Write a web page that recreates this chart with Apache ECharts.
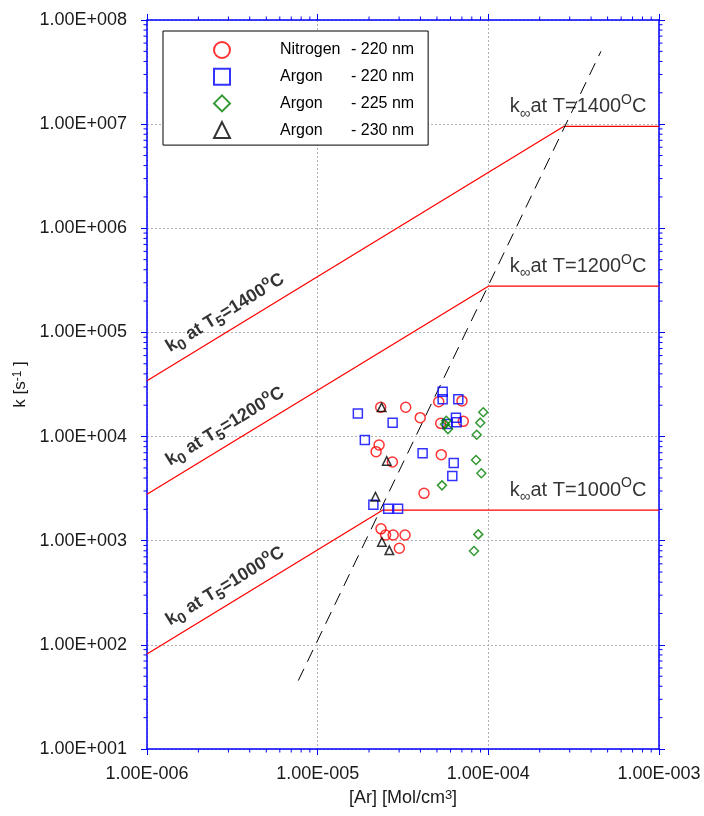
<!DOCTYPE html>
<html>
<head>
<meta charset="utf-8">
<script src="https://cdn.jsdelivr.net/npm/echarts@6/dist/echarts.min.js"></script>
<style>
  html, body { margin: 0; padding: 0; background: #ffffff; }
  #chart { width: 704px; height: 816px; }
</style>
</head>
<body>
<div id="chart"></div>
<script>
// Unimolecular rate constant k versus bath-gas concentration [Ar]

// Measured points: Nitrogen, 220 nm
const nitrogen220X = [2.34e-5, 3.28e-5, 3.99e-5, 5.12e-5, 7.01e-5, 5.26e-5, 7.13e-5, 2.29e-5, 2.20e-5,
                      2.74e-5, 5.30e-5, 4.20e-5, 2.35e-5, 2.50e-5, 2.77e-5, 3.25e-5, 3.01e-5];
const nitrogen220Y = [1.91e4, 1.91e4, 1.52e4, 2.16e4, 2.20e4, 1.34e4, 1.40e4, 8.30e3, 7.16e3,
                      5.70e3, 6.70e3, 2.85e3, 1.30e3, 1.135e3, 1.135e3, 1.135e3, 8.46e2];

// Argon, 220 nm
const argon220X = [5.40e-5, 5.40e-5, 6.67e-5, 1.72e-5, 2.75e-5, 6.46e-5, 6.52e-5, 5.75e-5,
                   1.89e-5, 4.12e-5, 6.27e-5, 6.15e-5, 2.12e-5, 2.59e-5, 2.96e-5];
const argon220Y = [2.70e4, 2.28e4, 2.28e4, 1.67e4, 1.36e4, 1.52e4, 1.37e4, 1.32e4,
                   9.27e3, 6.91e3, 5.58e3, 4.18e3, 2.22e3, 2.03e3, 2.03e3];

// Argon, 225 nm
const argon225X = [9.34e-5, 8.97e-5, 8.55e-5, 5.67e-5, 5.57e-5, 5.80e-5, 8.47e-5, 9.10e-5, 5.35e-5, 8.73e-5, 8.24e-5];
const argon225Y = [1.71e4, 1.36e4, 1.04e4, 1.42e4, 1.31e4, 1.18e4, 5.96e3, 4.44e3, 3.40e3, 1.15e3, 7.97e2];

// Argon, 230 nm
const argon230X = [2.37e-5, 2.54e-5, 2.18e-5, 2.38e-5, 2.63e-5];
const argon230Y = [1.91e4, 5.83e3, 2.65e3, 9.72e2, 8.09e2];

// Fall-off limits: low-pressure line k0 (from [Ar]=1e-6) up to the corner, then the k-infinity plateau
const limitTemps = ['1000', '1200', '1400'];
const limitX = [
  [1e-6, 2.41e-5, 1e-3],
  [1e-6, 1.0e-4, 1e-3],
  [1e-6, 2.76e-4, 1e-3]
];
const limitY = [
  [81.7, 1970, 1970],
  [2790, 278000, 278000],
  [34400, 9500000, 9500000]
];

// Dashed guide line through the corners
const guideX = [7.7e-6, 4.57e-4];
const guideY = [45.4, 5.01e7];

// Tick labels (one per decade)
const xTickLabels = ['1.00E-006', '1.00E-005', '1.00E-004', '1.00E-003'];
const yTickLabels = ['1.00E+001', '1.00E+002', '1.00E+003', '1.00E+004', '1.00E+005', '1.00E+006', '1.00E+007', '1.00E+008'];

const legendNames = ['Nitrogen - 220 nm', 'Argon - 220 nm', 'Argon - 225 nm', 'Argon - 230 nm'];

const FONT = '"Liberation Sans", Arial, Helvetica, sans-serif';
const AXIS_BLUE = '#0000ff';
const X_RANGE = [1e-6, 1e-3];
const Y_RANGE = [10, 1e8];
const zip = (xs, ys) => xs.map((x, i) => [x, ys[i]]);
const decade = v => Math.round(Math.log10(v));

// Logarithmic minor tick values 2..9 within each decade of a range
function minorTickValues(range) {
  const out = [];
  for (let e = decade(range[0]); e < decade(range[1]); e++) {
    for (let m = 2; m <= 9; m++) out.push(m * Math.pow(10, e));
  }
  return out;
}

function axisBase(range) {
  return {
    type: 'log',
    logBase: 10,
    min: range[0],
    max: range[1],
    axisLine: { show: true, onZero: false, lineStyle: { color: AXIS_BLUE, width: 1.5 } },
    axisTick: { show: true, inside: false, length: 6, lineStyle: { color: AXIS_BLUE, width: 1 } },
    minorTick: { show: false },
    splitLine: { show: false },
    minorSplitLine: { show: false },
    axisLabel: { show: false }
  };
}

const gridLine = { show: true, lineStyle: { color: '#b0b0b0', width: 1, type: [2, 2] } };

const xMain = Object.assign(axisBase(X_RANGE), {
  position: 'bottom',
  splitLine: gridLine,
  axisLabel: {
    show: true, margin: 16, fontSize: 18, color: '#1a1a1a', fontFamily: FONT,
    formatter: v => xTickLabels[decade(v) + 6]
  },
  name: '[Ar] [Mol/cm{sup|3}]',
  nameLocation: 'middle',
  nameGap: 40,
  nameTextStyle: {
    fontSize: 18, color: '#1a1a1a', fontFamily: FONT,
    rich: { sup: { fontSize: 13, verticalAlign: 'top', lineHeight: 12, fontFamily: FONT, color: '#1a1a1a' } }
  }
});
const xTop = Object.assign(axisBase(X_RANGE), { position: 'top' });

const yMain = Object.assign(axisBase(Y_RANGE), {
  position: 'left',
  splitLine: gridLine,
  axisLabel: {
    show: true, margin: 20, fontSize: 18, color: '#1a1a1a', fontFamily: FONT,
    formatter: v => yTickLabels[decade(v) - 1]
  },
  name: 'k [s{sup|-1} ]',
  nameLocation: 'middle',
  nameGap: 118,
  nameTextStyle: {
    fontSize: 17, color: '#1a1a1a', fontFamily: FONT,
    rich: { sup: { fontSize: 12, verticalAlign: 'top', lineHeight: 12, fontFamily: FONT, color: '#1a1a1a' } }
  }
});
const yRight = Object.assign(axisBase(Y_RANGE), { position: 'right' });

function pointSeries(name, xs, ys, symbol, size, color) {
  return {
    name: name,
    type: 'scatter',
    xAxisIndex: 0, yAxisIndex: 0,
    symbol: symbol,
    symbolSize: size,
    itemStyle: { color: 'rgba(255,255,255,0)', borderColor: color, borderWidth: 1.5 },
    emphasis: { disabled: true },
    z: 5,
    data: zip(xs, ys)
  };
}

const series = [
  pointSeries(legendNames[0], nitrogen220X, nitrogen220Y, 'circle', 10, '#ff0000'),
  pointSeries(legendNames[1], argon220X, argon220Y, 'rect', 9, '#0000ff'),
  pointSeries(legendNames[2], argon225X, argon225Y, 'diamond', 9, '#008000'),
  pointSeries(legendNames[3], argon230X, argon230Y, 'triangle', 8.5, '#000000')
];

// Fall-off limit polylines
limitTemps.forEach((t, i) => {
  series.push({
    name: 'limit ' + t,
    type: 'line',
    xAxisIndex: 0, yAxisIndex: 0,
    showSymbol: false,
    symbol: 'none',
    lineStyle: { color: '#ff0000', width: 1.3 },
    emphasis: { disabled: true },
    silent: true,
    z: 3,
    data: zip(limitX[i], limitY[i])
  });
});

// Dashed guide
series.push({
  name: 'guide',
  type: 'line',
  xAxisIndex: 0, yAxisIndex: 0,
  symbol: 'none',
  lineStyle: { color: '#000000', width: 1, type: [13, 8] },
  emphasis: { disabled: true },
  silent: true,
  z: 3,
  data: zip(guideX, guideY)
});

// Invisible anchor carrying a text caption
function captionSeries(name, point, label) {
  return {
    name: name,
    type: 'scatter',
    xAxisIndex: 0, yAxisIndex: 0,
    symbol: 'circle',
    symbolSize: 1,
    silent: true,
    z: 6,
    itemStyle: { color: 'rgba(0,0,0,0)' },
    emphasis: { disabled: true },
    label: Object.assign({ show: true, color: '#000' }, label),
    data: [point]
  };
}

// Sloped k0 captions, set just above each low-pressure line
const k0CaptionX = 2.87e-6;
const captionRich = {
  b: { fontSize: 18, fontWeight: 'bold', color: '#000', fontFamily: FONT, lineHeight: 26 },
  bs: { fontSize: 15, fontWeight: 'bold', color: '#000', fontFamily: FONT, lineHeight: 15, verticalAlign: 'bottom' },
  bp: { fontSize: 13, fontWeight: 'bold', color: '#000', fontFamily: FONT, lineHeight: 13, verticalAlign: 'top' }
};
limitTemps.forEach((t, i) => {
  const x0 = limitX[i][0], y0 = limitY[i][0], x1 = limitX[i][1], y1 = limitY[i][1];
  const slope = Math.log10(y1 / y0) / Math.log10(x1 / x0);
  const yLine = y0 * Math.pow(k0CaptionX / x0, slope);
  series.push(captionSeries('k0 caption ' + t, [k0CaptionX, yLine * 1.56], {
    position: 'inside',
    rotate: 31.4,
    align: 'center',
    verticalAlign: 'middle',
    formatter: '{b|k}{bs|0}{b| at T}{bs|5}{b|=' + t + '}{bp|o}{b|C}',
    rich: captionRich
  }));
});

// k-infinity captions, right-aligned above each plateau
const kInfCaptionX = 8.5e-4;
const infRich = {
  m: { fontSize: 20, color: '#000', fontFamily: FONT, lineHeight: 28 },
  s: { fontSize: 15, color: '#000', fontFamily: FONT, lineHeight: 15, verticalAlign: 'bottom' },
  p: { fontSize: 14, color: '#000', fontFamily: FONT, lineHeight: 14, verticalAlign: 'top' }
};
limitTemps.forEach((t, i) => {
  series.push(captionSeries('kinf caption ' + t, [kInfCaptionX, limitY[i][2]], {
    position: [0, 0],
    align: 'right',
    verticalAlign: 'bottom',
    offset: [0, -5],
    formatter: '{m|k}{s|\u221e}{m|at T=' + t + '}{p|O}{m|C}',
    rich: infRich
  }));
});

// Minor ticks on all four frame sides (logarithmic 2..9 positions)
const minorLen = 3.5;
series.push({
  name: 'x minor ticks',
  type: 'custom',
  xAxisIndex: 0, yAxisIndex: 0,
  silent: true,
  clip: false,
  z: 4,
  renderItem: (params, api) => {
    const v = api.value(0);
    const b = api.coord([v, Y_RANGE[0]]);
    const t = api.coord([v, Y_RANGE[1]]);
    const style = { stroke: AXIS_BLUE, lineWidth: 1 };
    return {
      type: 'group',
      children: [
        { type: 'line', shape: { x1: b[0], y1: b[1], x2: b[0], y2: b[1] + minorLen }, style: style },
        { type: 'line', shape: { x1: t[0], y1: t[1], x2: t[0], y2: t[1] - minorLen }, style: style }
      ]
    };
  },
  data: minorTickValues(X_RANGE).map(v => [v, Y_RANGE[0]])
});
series.push({
  name: 'y minor ticks',
  type: 'custom',
  xAxisIndex: 0, yAxisIndex: 0,
  silent: true,
  clip: false,
  z: 4,
  renderItem: (params, api) => {
    const v = api.value(1);
    const l = api.coord([X_RANGE[0], v]);
    const r = api.coord([X_RANGE[1], v]);
    const style = { stroke: AXIS_BLUE, lineWidth: 1 };
    return {
      type: 'group',
      children: [
        { type: 'line', shape: { x1: l[0], y1: l[1], x2: l[0] - minorLen, y2: l[1] }, style: style },
        { type: 'line', shape: { x1: r[0], y1: r[1], x2: r[0] + minorLen, y2: r[1] }, style: style }
      ]
    };
  },
  data: minorTickValues(Y_RANGE).map(v => [X_RANGE[0], v])
});

const chart = echarts.init(document.getElementById('chart'), null, { renderer: 'canvas' });
chart.setOption({
  animation: false,
  backgroundColor: '#ffffff',
  textStyle: { fontFamily: FONT },
  grid: { left: 147, right: 45, top: 20, bottom: 67, containLabel: false },
  xAxis: [xMain, xTop],
  yAxis: [yMain, yRight],
  legend: {
    orient: 'vertical',
    left: 163,
    top: 31,
    padding: [10, 14, 6, 50],
    itemWidth: 16,
    itemHeight: 16,
    itemGap: 8.7,
    backgroundColor: '#ffffff',
    borderColor: '#000000',
    borderWidth: 1,
    selectedMode: false,
    data: legendNames.map(n => ({ name: n, itemStyle: { borderWidth: 2 } })),
    formatter: name => {
      const parts = name.split(' - ');
      return '{a|' + parts[0] + '}{b|- ' + parts[1] + '}';
    },
    textStyle: {
      fontSize: 16, color: '#000', fontFamily: FONT, lineHeight: 16,
      padding: [0, 0, 0, 45],
      rich: {
        a: { width: 71, fontSize: 16, color: '#000', fontFamily: FONT, lineHeight: 16 },
        b: { fontSize: 16, color: '#000', fontFamily: FONT, lineHeight: 16 }
      }
    }
  },
  series: series
});
</script>
</body>
</html>
